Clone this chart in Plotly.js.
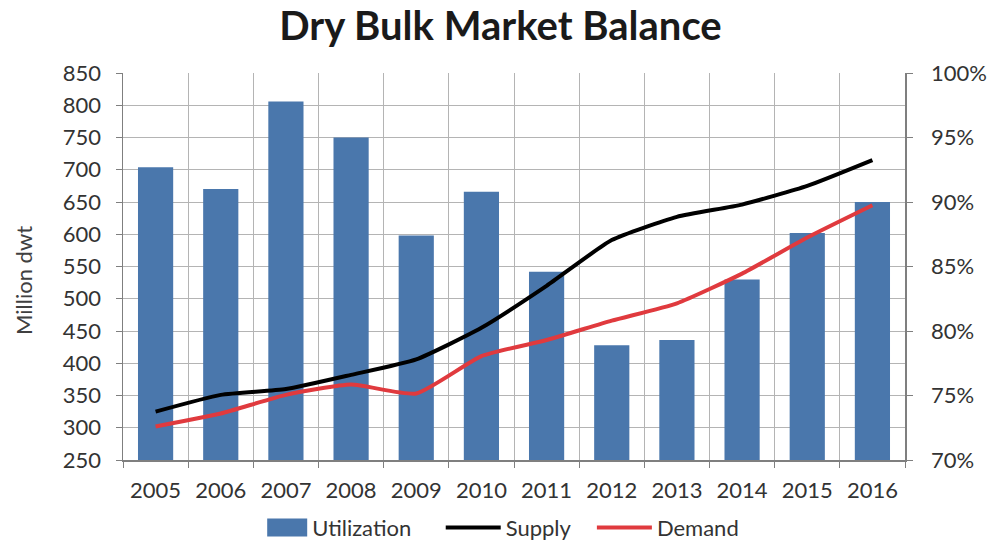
<!DOCTYPE html>
<html>
<head>
<meta charset="utf-8">
<script src="https://cdn.plot.ly/plotly-3.0.1.min.js"></script>
<style>html,body{margin:0;padding:0;background:#fff;}#chart{width:995px;height:549px;}</style>
</head>
<body>
<div id="chart"></div>
<script>
const years = ['2005','2006','2007','2008','2009','2010','2011','2012','2013','2014','2015','2016'];
const utilization = [92.7, 91.0, 97.8, 95.0, 87.4, 90.8, 84.6, 78.9, 79.3, 84.0, 87.6, 90.0];
const supply = [325, 351, 360, 382, 406, 455, 520, 591, 627, 646, 675, 715];
const demand = [302, 322, 351, 367, 353, 411, 436, 466, 493, 539, 595, 645];
const yTitle = 'Million dwt';

const FONT = 'Lato, "Open Sans", sans-serif';
const tickFont = {family: FONT, size: 22, color: '#333333'};
const legFont = {family: FONT, size: 22, color: '#333333'};
const gridColor = '#b4b4b4';
const lineColor = '#7f7f7f';

const traces = [
  {type: 'bar', name: 'Utilization', x: years, y: utilization, yaxis: 'y', legend: 'legend',
   marker: {color: '#4a77ac'}, width: 0.54},
  {type: 'scatter', mode: 'lines', name: 'Supply', x: years, y: supply, yaxis: 'y2', legend: 'legend2',
   line: {color: '#000000', width: 4, shape: 'spline', smoothing: 0.5}},
  {type: 'scatter', mode: 'lines', name: 'Demand', x: years, y: demand, yaxis: 'y2', legend: 'legend3',
   line: {color: '#e03a3e', width: 4, shape: 'spline', smoothing: 0.5}}
];

const legBase = {orientation: 'h', y: -0.2295, yanchor: 'bottom', xanchor: 'left', font: legFont, tracegroupgap: 0, bgcolor: 'rgba(0,0,0,0)'};

const layout = {
  width: 995, height: 549,
  margin: {l: 123, r: 90, t: 73, b: 89, autoexpand: false},
  paper_bgcolor: '#ffffff', plot_bgcolor: '#ffffff',
  showlegend: true,
  title: {text: '<b>Dry Bulk Market Balance</b>', x: 0.503, xanchor: 'center', y: 0.953, yanchor: 'middle',
          font: {family: FONT, size: 40, color: '#1a1a1a'}},
  xaxis: {type: 'category', tickson: 'boundaries', showgrid: true, gridcolor: gridColor, gridwidth: 1,
          ticks: 'outside', ticklen: 6, tickcolor: lineColor, showline: true, linecolor: lineColor, linewidth: 1.5,
          tickfont: tickFont, ticklabelstandoff: 10},
  yaxis: {side: 'right', range: [70, 100], dtick: 5, ticksuffix: '%', showgrid: false,
          ticks: 'outside', ticklen: 6, tickcolor: lineColor, showline: true, linecolor: lineColor, linewidth: 1.5,
          tickfont: tickFont, zeroline: false, ticklabelstandoff: 14},
  yaxis2: {side: 'left', overlaying: 'y', range: [250, 850], dtick: 50, showgrid: true, gridcolor: gridColor, gridwidth: 1,
           ticks: 'outside', ticklen: 6, tickcolor: lineColor, showline: true, linecolor: lineColor, linewidth: 1.5,
           tickfont: tickFont, zeroline: false, ticklabelstandoff: 10},
  annotations: [{text: yTitle, xref: 'paper', yref: 'paper', x: -0.1279, y: 0.465, xanchor: 'center', yanchor: 'middle',
                 textangle: -90, showarrow: false, font: {family: FONT, size: 22, color: '#404040'}}],
  legend: Object.assign({}, legBase, {x: 0.178, itemwidth: 40}),
  legend2: Object.assign({}, legBase, {x: 0.4063, itemwidth: 55}),
  legend3: Object.assign({}, legBase, {x: 0.5996, itemwidth: 55}),
  bargap: 0.46
};

function widenSwatch(gd) {
  gd.querySelectorAll('.legend .traces').forEach(function (it) {
    it.querySelectorAll('.legendpoints path').forEach(function (p) {
      const cls = p.getAttribute('class') || '';
      if (cls.indexOf('legendbar') >= 0 || cls.indexOf('legendundefined') >= 0) {
        p.setAttribute('d', 'M-20,-9h40v18h-40z');
      }
    });
  });
}

Plotly.newPlot('chart', traces, layout, {displayModeBar: false, staticPlot: true}).then(function (gd) {
  widenSwatch(gd);
  gd.on && gd.on('plotly_afterplot', function () { widenSwatch(gd); });
});
</script>
</body>
</html>
